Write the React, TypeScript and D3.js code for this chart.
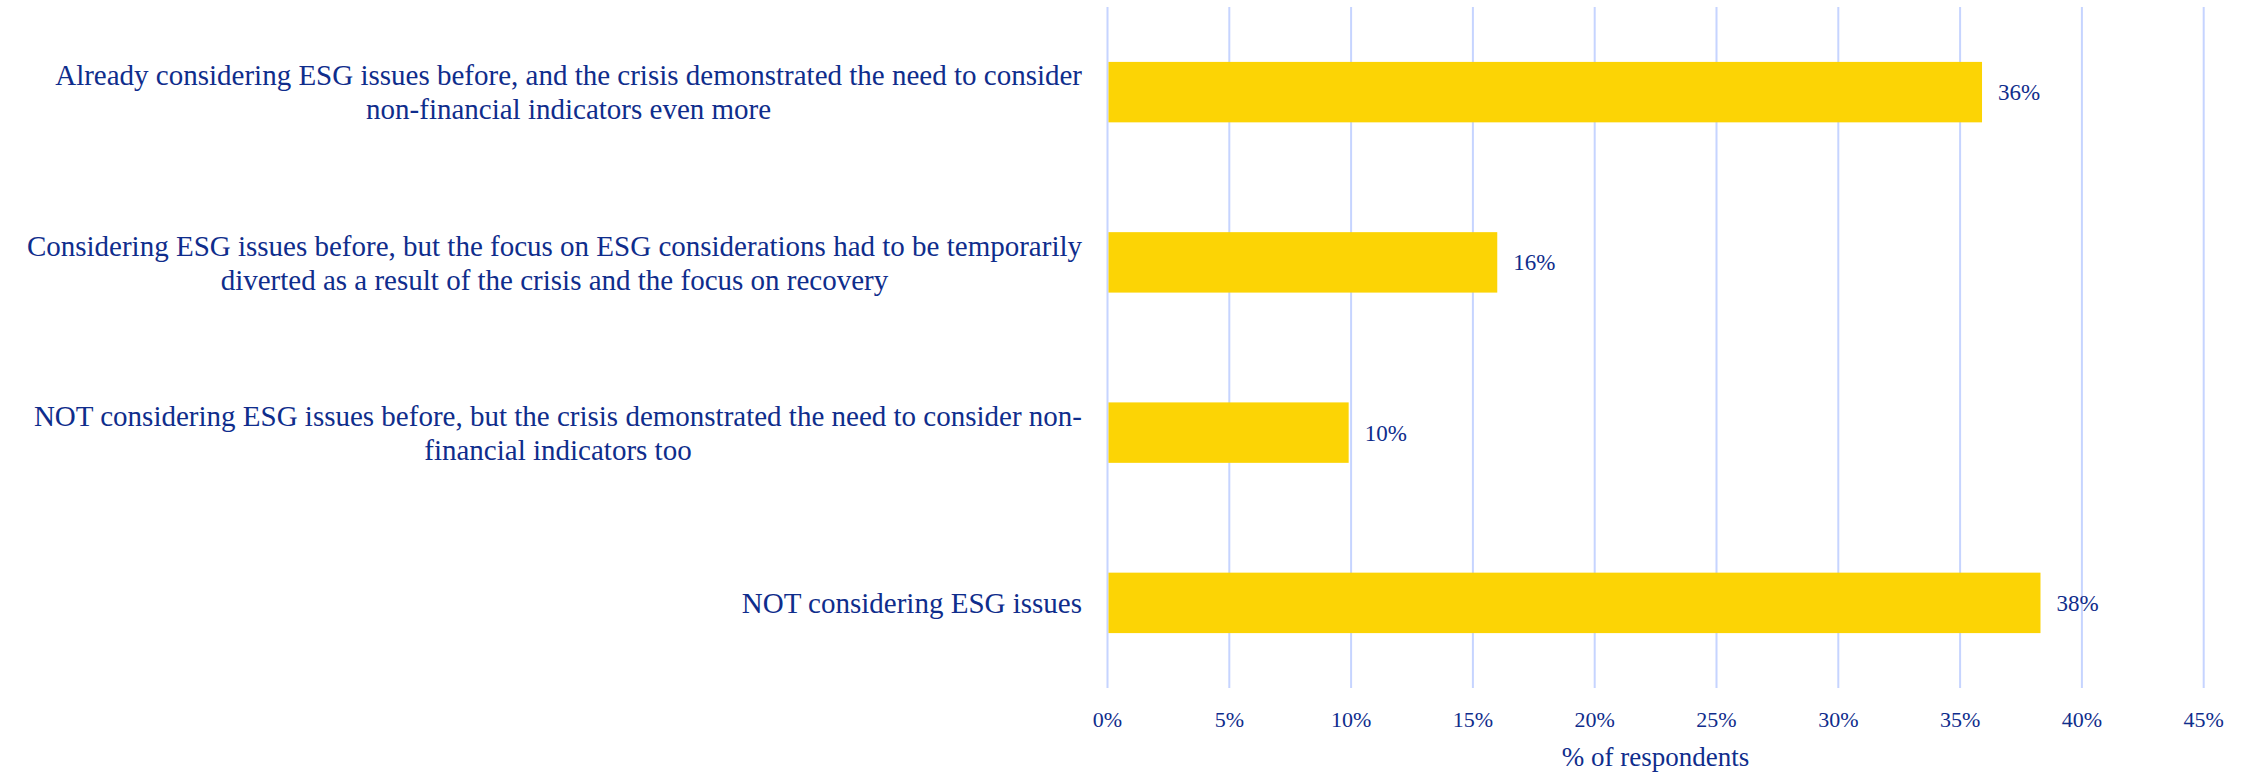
import React, { useEffect, useRef } from "react";
import * as d3 from "d3";

const categories: string[][] = [
  ["Already considering ESG issues before, and the crisis demonstrated the need to consider", "non-financial indicators even more"],
  ["Considering ESG issues before, but the focus on ESG considerations had to be temporarily", "diverted as a result of the crisis and the focus on recovery"],
  ["NOT considering ESG issues before, but the crisis demonstrated the need to consider non-", "financial indicators too"],
  ["NOT considering ESG issues"],
];
const values: number[] = [35.9, 16.0, 9.9, 38.3];
const ticks: number[] = [0, 5, 10, 15, 20, 25, 30, 35, 40, 45];
const axisTitle = "% of respondents";

const W = 2244;
const H = 772;
const TEXT = "#0f2d8c";
const BAR = "#fcd405";
const GRID = "#c6d4ff";
const FONT = "'Liberation Serif', 'Times New Roman', serif";

export default function App() {
  const ref = useRef<SVGSVGElement>(null);

  useEffect(() => {
    const svg = d3.select(ref.current);
    svg.selectAll("*").remove();

    const left = 1107.5;
    const right = 2203.7;
    const top = 7;
    const bottom = 688;

    const x = d3.scaleLinear().domain([0, 45]).range([left, right]);
    const y = d3
      .scaleBand<number>()
      .domain(d3.range(categories.length))
      .range([top, bottom])
      .paddingInner(0.645)
      .paddingOuter(0.3225);

    svg
      .append("g")
      .selectAll("line")
      .data(ticks)
      .join("line")
      .attr("x1", (d) => x(d))
      .attr("x2", (d) => x(d))
      .attr("y1", top)
      .attr("y2", bottom)
      .attr("stroke", GRID)
      .attr("stroke-width", 2);

    svg
      .append("g")
      .selectAll("rect")
      .data(values)
      .join("rect")
      .attr("x", x(0) + 1)
      .attr("y", (_, i) => y(i)!)
      .attr("width", (d) => x(d) - x(0) - 1)
      .attr("height", y.bandwidth())
      .attr("fill", BAR);

    svg
      .append("g")
      .selectAll("text")
      .data(values)
      .join("text")
      .attr("x", (d) => x(d) + 16)
      .attr("y", (_, i) => y(i)! + y.bandwidth() / 2)
      .attr("dy", "0.35em")
      .attr("font-family", FONT)
      .attr("font-size", 23)
      .attr("fill", TEXT)
      .text((d) => `${Math.round(d)}%`);

    svg
      .append("g")
      .selectAll("text")
      .data(ticks)
      .join("text")
      .attr("x", (d) => x(d))
      .attr("y", 719)
      .attr("dy", "0.35em")
      .attr("text-anchor", "middle")
      .attr("font-family", FONT)
      .attr("font-size", 22)
      .attr("fill", TEXT)
      .text((d) => `${d}%`);

    svg
      .append("text")
      .attr("x", (left + right) / 2)
      .attr("y", 757)
      .attr("dy", "0.35em")
      .attr("text-anchor", "middle")
      .attr("font-family", FONT)
      .attr("font-size", 27)
      .attr("fill", TEXT)
      .text(axisTitle);

    const labelRight = 1082;
    const lineH = 34;
    categories.forEach((lines, i) => {
      const g = svg.append("g");
      const cy = y(i)! + y.bandwidth() / 2;
      const texts = lines.map((ln, k) =>
        g
          .append("text")
          .attr("y", cy + (k - (lines.length - 1) / 2) * lineH)
          .attr("dy", "0.35em")
          .attr("text-anchor", "middle")
          .attr("font-family", FONT)
          .attr("font-size", 29)
          .attr("fill", TEXT)
          .text(ln)
      );
      const maxW = d3.max(texts, (t) => (t.node() as SVGTextElement).getComputedTextLength()) || 0;
      texts.forEach((t) => t.attr("x", labelRight - maxW / 2));
    });
  }, []);

  return (
    <svg
      ref={ref}
      width={W}
      height={H}
      style={{ position: "absolute", left: 0, top: 0, background: "#fff" }}
    />
  );
}
